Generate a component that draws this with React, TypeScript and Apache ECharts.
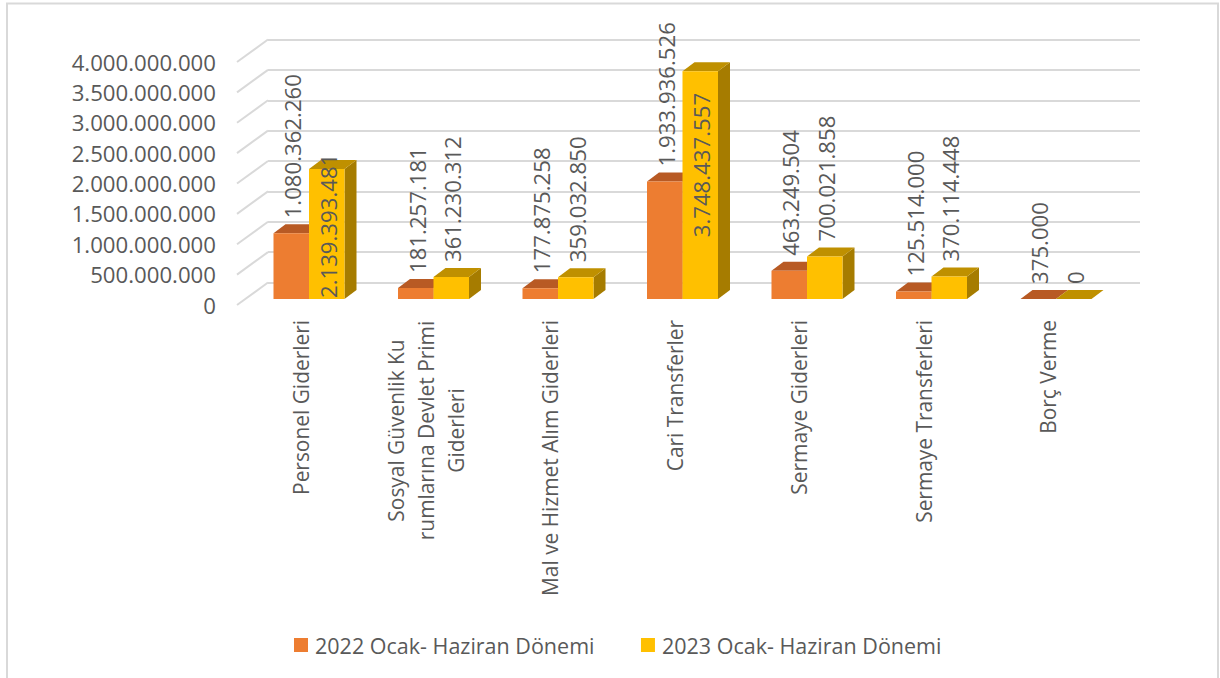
import React, { useEffect, useRef } from "react";
import * as echarts from "echarts";

const categories = [
  "Personel Giderleri",
  "Sosyal Güvenlik Ku\nrumlarına Devlet Primi\nGiderleri",
  "Mal ve Hizmet Alım Giderleri",
  "Cari Transferler",
  "Sermaye Giderleri",
  "Sermaye Transferleri",
  "Borç Verme",
];
const values2022 = [1080362260, 181257181, 177875258, 1933936526, 463249504, 125514000, 375000];
const values2023 = [2139393481, 361230312, 359032850, 3748437557, 700021858, 370114448, 0];
const gridTicks = [0, 500000000, 1000000000, 1500000000, 2000000000, 2500000000, 3000000000, 3500000000, 4000000000];
const seriesNames = ["2022 Ocak- Haziran Dönemi", "2023 Ocak- Haziran Dönemi"];

const FONT = "'Open Sans', sans-serif";
const TEXT = "#595959";
const GRID = "#d9d9d9";
const palette = [
  { front: "#ed7d31", top: "#b85a24", side: "#ae5a21" },
  { front: "#ffc000", top: "#bf9000", side: "#a67c00" },
];
const BAR_W = 35.5;
const DEPTH_X = 12;
const DEPTH_Y = 9;
const LABEL_GAP = 15;
const insideLabelDrop: Record<string, number> = { "1:0": 144, "1:3": 181 };

const dotted = (v: number) => String(v).replace(/\B(?=(\d{3})+(?!\d))/g, ".");

function barRenderer(seriesIdx: number) {
  return (_params: any, api: any) => {
    const idx = api.value(0);
    const val = api.value(1);
    const [cx, yTop] = api.coord([idx, val]);
    const [, yBase] = api.coord([idx, 0]);
    const x = seriesIdx === 0 ? cx - BAR_W : cx;
    const c = palette[seriesIdx];
    const drop = insideLabelDrop[`${seriesIdx}:${idx}`] ?? 0;
    return {
      type: "group",
      children: [
        {
          type: "polygon",
          shape: { points: [[x + BAR_W, yTop], [x + BAR_W + DEPTH_X, yTop - DEPTH_Y], [x + BAR_W + DEPTH_X, yBase - DEPTH_Y], [x + BAR_W, yBase]] },
          style: { fill: c.side },
        },
        {
          type: "polygon",
          shape: { points: [[x, yTop], [x + BAR_W, yTop], [x + BAR_W + DEPTH_X, yTop - DEPTH_Y], [x + DEPTH_X, yTop - DEPTH_Y]] },
          style: { fill: c.top },
        },
        {
          type: "rect",
          shape: { x, y: yTop, width: BAR_W, height: yBase - yTop },
          style: { fill: c.front },
        },
        {
          type: "text",
          x: x + BAR_W / 2 + 1.5,
          y: yTop - LABEL_GAP + drop,
          rotation: Math.PI / 2,
          z2: 10,
          style: { text: dotted(val), fontFamily: "'Open Sans', sans-serif", fontSize: 22.2, fill: TEXT, align: "left", verticalAlign: "middle" },
        },
      ],
    };
  };
}

export default function App() {
  const ref = useRef<HTMLDivElement>(null);
  useEffect(() => {
    document.body.style.margin = "0";
    const chart = echarts.init(ref.current!, undefined, { renderer: "svg" });
    chart.setOption({
      animation: false,
      backgroundColor: "#ffffff",
      textStyle: { fontFamily: FONT },
      grid: [
        { left: 239, width: 871.5, top: 62, height: 243 },
        { left: 246.75, width: 871.5, top: 56, height: 243 },
        { left: 268, width: 872, top: 39.5, height: 243 },
      ],
      xAxis: [
        {
          gridIndex: 0,
          type: "category",
          data: categories.map((c) =>
            c.includes("\n")
              ? { value: c, textStyle: { align: "center", padding: [0, 221, 0, 0] } }
              : c
          ),
          axisLine: { show: false },
          axisTick: { show: false },
          splitLine: { show: false },
          axisLabel: {
            interval: 0,
            rotate: 90,
            margin: 15,
            fontSize: 20.9,
            lineHeight: 30,
            color: TEXT,
            fontFamily: FONT,
            hideOverlap: false,
          },
        },
        { gridIndex: 1, type: "category", data: categories, show: false },
        { gridIndex: 2, type: "category", data: categories, show: false },
      ],
      yAxis: [
        {
          gridIndex: 0,
          type: "value",
          min: 0,
          max: 4000000000,
          interval: 500000000,
          axisLine: { show: false },
          axisTick: { show: false },
          splitLine: { show: false },
          axisLabel: { margin: 23, fontSize: 22.2, color: TEXT, fontFamily: FONT, formatter: (v: number) => dotted(v) },
        },
        { gridIndex: 1, type: "value", min: 0, max: 4000000000, interval: 500000000, show: false, splitLine: { show: false } },
        {
          gridIndex: 2,
          type: "value",
          min: 0,
          max: 4000000000,
          interval: 500000000,
          axisLine: { show: false },
          axisTick: { show: false },
          axisLabel: { show: false },
          splitLine: { show: true, lineStyle: { color: GRID, width: 2 } },
        },
      ],
      legend: {
        left: 294,
        top: 634,
        padding: 0,
        itemWidth: 14,
        itemHeight: 14,
        itemGap: 46.5,
        icon: "rect",
        data: [
          { name: seriesNames[0], itemStyle: { color: palette[0].front } },
          { name: seriesNames[1], itemStyle: { color: palette[1].front } },
        ],
        textStyle: { fontSize: 21.5, color: TEXT, fontFamily: FONT, padding: [0, 0, 0, 2] },
      },
      graphic: [
        {
          type: "polyline",
          shape: { points: [[7, 678], [7, 3.5], [1218, 3.5], [1218, 678]] },
          style: { stroke: GRID, lineWidth: 2, fill: "none" },
        },
      ],
      series: [
        {
          type: "custom",
          name: "wall",
          xAxisIndex: 2,
          yAxisIndex: 2,
          z: 1,
          silent: true,
          data: gridTicks.map((t) => [0, t]),
          renderItem: (params: any, api: any) => {
            const [, y] = api.coord([0, api.value(1)]);
            const left = params.coordSys.x;
            return {
              type: "line",
              shape: { x1: left, y1: y, x2: left - 31, y2: y + 22.5 },
              style: { stroke: GRID, lineWidth: 2 },
            };
          },
        },
        ...[values2022, values2023].map((vals, i) => ({
          type: "custom",
          name: seriesNames[i],
          xAxisIndex: 1,
          yAxisIndex: 1,
          z: 3 + i,
          itemStyle: { color: palette[i].front },
          data: vals.map((v, k) => [k, v]),
          encode: { x: 0, y: 1 },
          renderItem: barRenderer(i),
        })),
      ],
    });
    return () => chart.dispose();
  }, []);
  return <div ref={ref} style={{ width: 1220, height: 678 }} />;
}
